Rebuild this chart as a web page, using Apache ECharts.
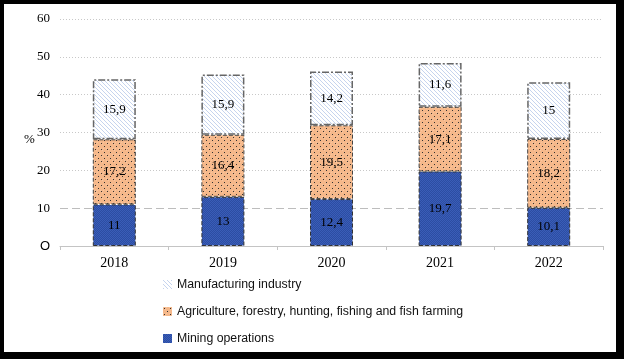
<!DOCTYPE html>
<html><head><meta charset="utf-8">
<script src="https://cdn.jsdelivr.net/npm/echarts@6/dist/echarts.min.js"></script>
<style>
html,body{margin:0;padding:0;background:#000;width:624px;height:359px;overflow:hidden}
#c{position:absolute;left:4px;top:4px;width:612px;height:348px;background:#fff}
</style></head><body><div id="c"></div>
<script>
const categories = ['2018','2019','2020','2021','2022'];
const mining = [11, 13, 12.4, 19.7, 10.1];
const agriculture = [17.2, 16.4, 19.5, 17.1, 18.2];
const manufacturing = [15.9, 15.9, 14.2, 11.6, 15];
const seriesNames = ['Manufacturing industry','Agriculture, forestry, hunting, fishing and fish farming','Mining operations'];
const yTicks = [0,10,20,30,40,50,60];

function tile(w,h,draw){const c=document.createElement('canvas');c.width=w;c.height=h;const g=c.getContext('2d');draw(g);return c;}
const minePat = tile(2,2,g=>{g.fillStyle='#2c4da2';g.fillRect(0,0,2,2);g.fillStyle='#3a5db8';g.fillRect(0,0,1,1);g.fillRect(1,1,1,1);});
const agriPat = tile(6,6,g=>{g.fillStyle='#f5b88a';g.fillRect(0,0,6,6);g.fillStyle='#f9c6a0';g.fillRect(0,0,1,1);g.fillRect(2,2,1,1);g.fillRect(3,0,1,1);g.fillStyle='#333';g.fillRect(1,1,1,1);g.fillRect(4,4,1,1);});
const manuPat = tile(4,4,g=>{g.fillStyle='#ffffff';g.fillRect(0,0,4,4);g.fillStyle='#c6d4ee';for(let i=0;i<4;i++){g.fillRect(i,i,1,1);}});

const lbl = {show:true,position:'inside',color:'#000',fontFamily:'Liberation Serif',fontSize:13,
  formatter:p=>String(p.value).replace('.',',')};

const chart = echarts.init(document.getElementById('c'),null,{renderer:'canvas'});
chart.setOption({
  animation:false,
  grid:{left:56,top:15,width:543,height:227},
  legend:{orient:'vertical',left:159,top:273,padding:0,height:75,icon:'rect',itemWidth:9,itemHeight:9,itemGap:12,
    data:seriesNames,itemStyle:{borderWidth:0},
    textStyle:{fontFamily:'Liberation Sans',fontSize:12.3,color:'#111',lineHeight:15}},
  graphic:[{type:'text',left:20,top:129,style:{text:'%',fontFamily:'Liberation Serif',fontSize:13,fill:'#000'}}],
  xAxis:{type:'category',data:categories,
    axisLine:{lineStyle:{color:'#c4c4c4',width:1}},
    axisTick:{show:true,length:4,lineStyle:{color:'#c4c4c4'}},
    axisLabel:{margin:10,color:'#000',fontFamily:'Liberation Serif',fontSize:14}},
  yAxis:{type:'value',min:0,max:60,interval:10,
    axisLine:{show:false},axisTick:{show:false},splitLine:{show:false},
    axisLabel:{margin:10,color:'#000',fontFamily:'Liberation Serif',fontSize:13,
      formatter:v=>v===0?'{z|O}':String(v),rich:{z:{fontFamily:'Liberation Sans',fontSize:13,color:'#000'}}}},
  series:[
    {name:seriesNames[2],type:'bar',stack:'s',barWidth:43,data:mining,
      itemStyle:{color:{image:minePat,repeat:'repeat'},borderColor:'#333',borderWidth:1,borderType:'dashed'},
      label:lbl,
      markLine:{silent:true,symbol:'none',label:{show:false},z:0,
        data:yTicks.filter(v=>v>0).map(v=>({yAxis:v,lineStyle:{color:v===10?'#bdbdbd':'#c8c8c8',width:1,type:v===10?[8,4]:[1,2]}}))}},
    {name:seriesNames[1],type:'bar',stack:'s',barWidth:43,data:agriculture,
      itemStyle:{color:{image:agriPat,repeat:'repeat'},borderColor:'#444',borderWidth:1,borderType:[4,2]},
      label:lbl},
    {name:seriesNames[0],type:'bar',stack:'s',barWidth:43,data:manufacturing,
      itemStyle:{color:{image:manuPat,repeat:'repeat'},borderColor:'#666',borderWidth:1.5,borderType:[7,2,2,2]},
      label:lbl}
  ]
});
</script></body></html>
